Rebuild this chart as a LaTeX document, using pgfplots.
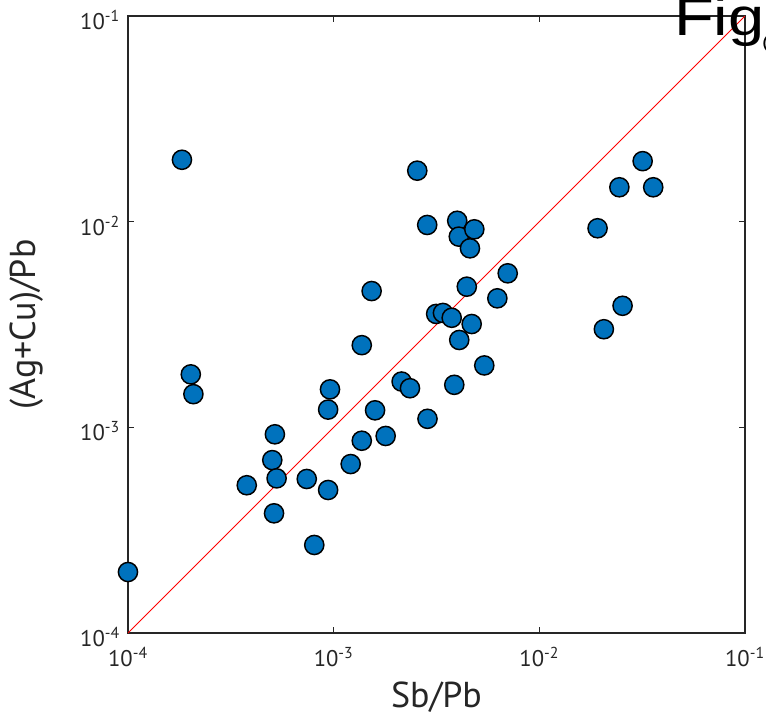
\documentclass[border=0pt]{standalone}
\usepackage{pgfplots}
\pgfplotsset{compat=1.18}
\usepackage{fontspec}
\setmainfont{PT Sans}
\newfontfamily\figfont{Liberation Sans}
\definecolor{axgray}{HTML}{262626}
\definecolor{mblue}{HTML}{0072BD}

\begin{document}
\begin{tikzpicture}
\begin{axis}[
  xmode=log, ymode=log,
  scale only axis, width=462.75pt, height=462.75pt,
  xmin=1e-4, xmax=1e-1, ymin=1e-4, ymax=1e-1,
  xtick={1e-4,1e-3,1e-2,1e-1}, ytick={1e-4,1e-3,1e-2,1e-1},
  xticklabels={10\textsuperscript{-4},10\textsuperscript{-3},10\textsuperscript{-2},10\textsuperscript{-1}},
  yticklabels={10\textsuperscript{-4},10\textsuperscript{-3},10\textsuperscript{-2},10\textsuperscript{-1}},
  xminorticks=false, yminorticks=false,
  tick align=inside, major tick length=4.5pt,
  axis line style={axgray, line width=0.8pt},
  tick style={axgray, line width=0.8pt},
  tick label style={font=\fontsize{17}{17}\selectfont, text=axgray},
  xticklabel style={yshift=-7pt},
  yticklabel style={xshift=-2.5pt, yshift=-3pt},
  xlabel={Sb/Pb}, ylabel={(Ag+Cu)/Pb},
  label style={font=\fontsize{27}{27}\selectfont, text=axgray},
  xlabel style={at={(axis description cs:0.5,-0.1037)}, anchor=center},
  ylabel style={at={(axis description cs:-0.1637,0.5)}, anchor=center},
]
% 1:1 reference line
\addplot[red, line width=0.75pt] coordinates {(1e-4,1e-4) (1e-1,1e-1)};
\addplot[only marks, mark=*, mark size=7.2pt,
  mark options={fill=mblue, draw=black, line width=1.1pt}] coordinates {
  (1.00e-4,1.98e-4) (1.83e-4,2.00e-2) (2.02e-4,1.81e-3) (2.08e-4,1.45e-3)
  (3.78e-4,5.23e-4) (5.18e-4,9.25e-4) (5.03e-4,6.93e-4) (5.28e-4,5.65e-4)
  (5.13e-4,3.82e-4) (7.40e-4,5.61e-4) (8.05e-4,2.68e-4) (9.40e-4,4.96e-4)
  (9.40e-4,1.22e-3) (9.60e-4,1.53e-3) (1.21e-3,6.63e-4) (1.37e-3,8.61e-4)
  (1.37e-3,2.51e-3) (1.53e-3,4.60e-3) (1.59e-3,1.21e-3) (1.79e-3,9.08e-4)
  (2.14e-3,1.67e-3) (2.35e-3,1.55e-3) (2.55e-3,1.77e-2) (2.85e-3,9.64e-3)
  (2.86e-3,1.10e-3) (3.15e-3,3.56e-3) (3.40e-3,3.60e-3) (3.75e-3,3.41e-3)
  (3.86e-3,1.61e-3) (3.99e-3,1.01e-2) (4.06e-3,8.46e-3) (4.08e-3,2.66e-3)
  (4.44e-3,4.83e-3) (4.60e-3,7.42e-3) (4.69e-3,3.18e-3) (4.83e-3,9.18e-3)
  (5.40e-3,2.00e-3) (6.25e-3,4.24e-3) (7.02e-3,5.61e-3) (1.92e-2,9.29e-3)
  (2.06e-2,3.00e-3) (2.45e-2,1.47e-2) (2.54e-2,3.90e-3) (3.18e-2,1.97e-2)
  (3.58e-2,1.47e-2)
};
\end{axis}
\node[anchor=base west, inner sep=0, xscale=1.22, font=\figfont\fontsize{40}{40}\selectfont]
  at (409.3pt,448pt) {Fig\kern-1.5pt\raisebox{-9.8pt}{\fontsize{13.5}{13.5}\selectfont(a)}};
\pgfresetboundingbox
\path[use as bounding box] (-96pt,-66pt) rectangle (478.5pt,474.75pt);
\end{tikzpicture}
\end{document}
